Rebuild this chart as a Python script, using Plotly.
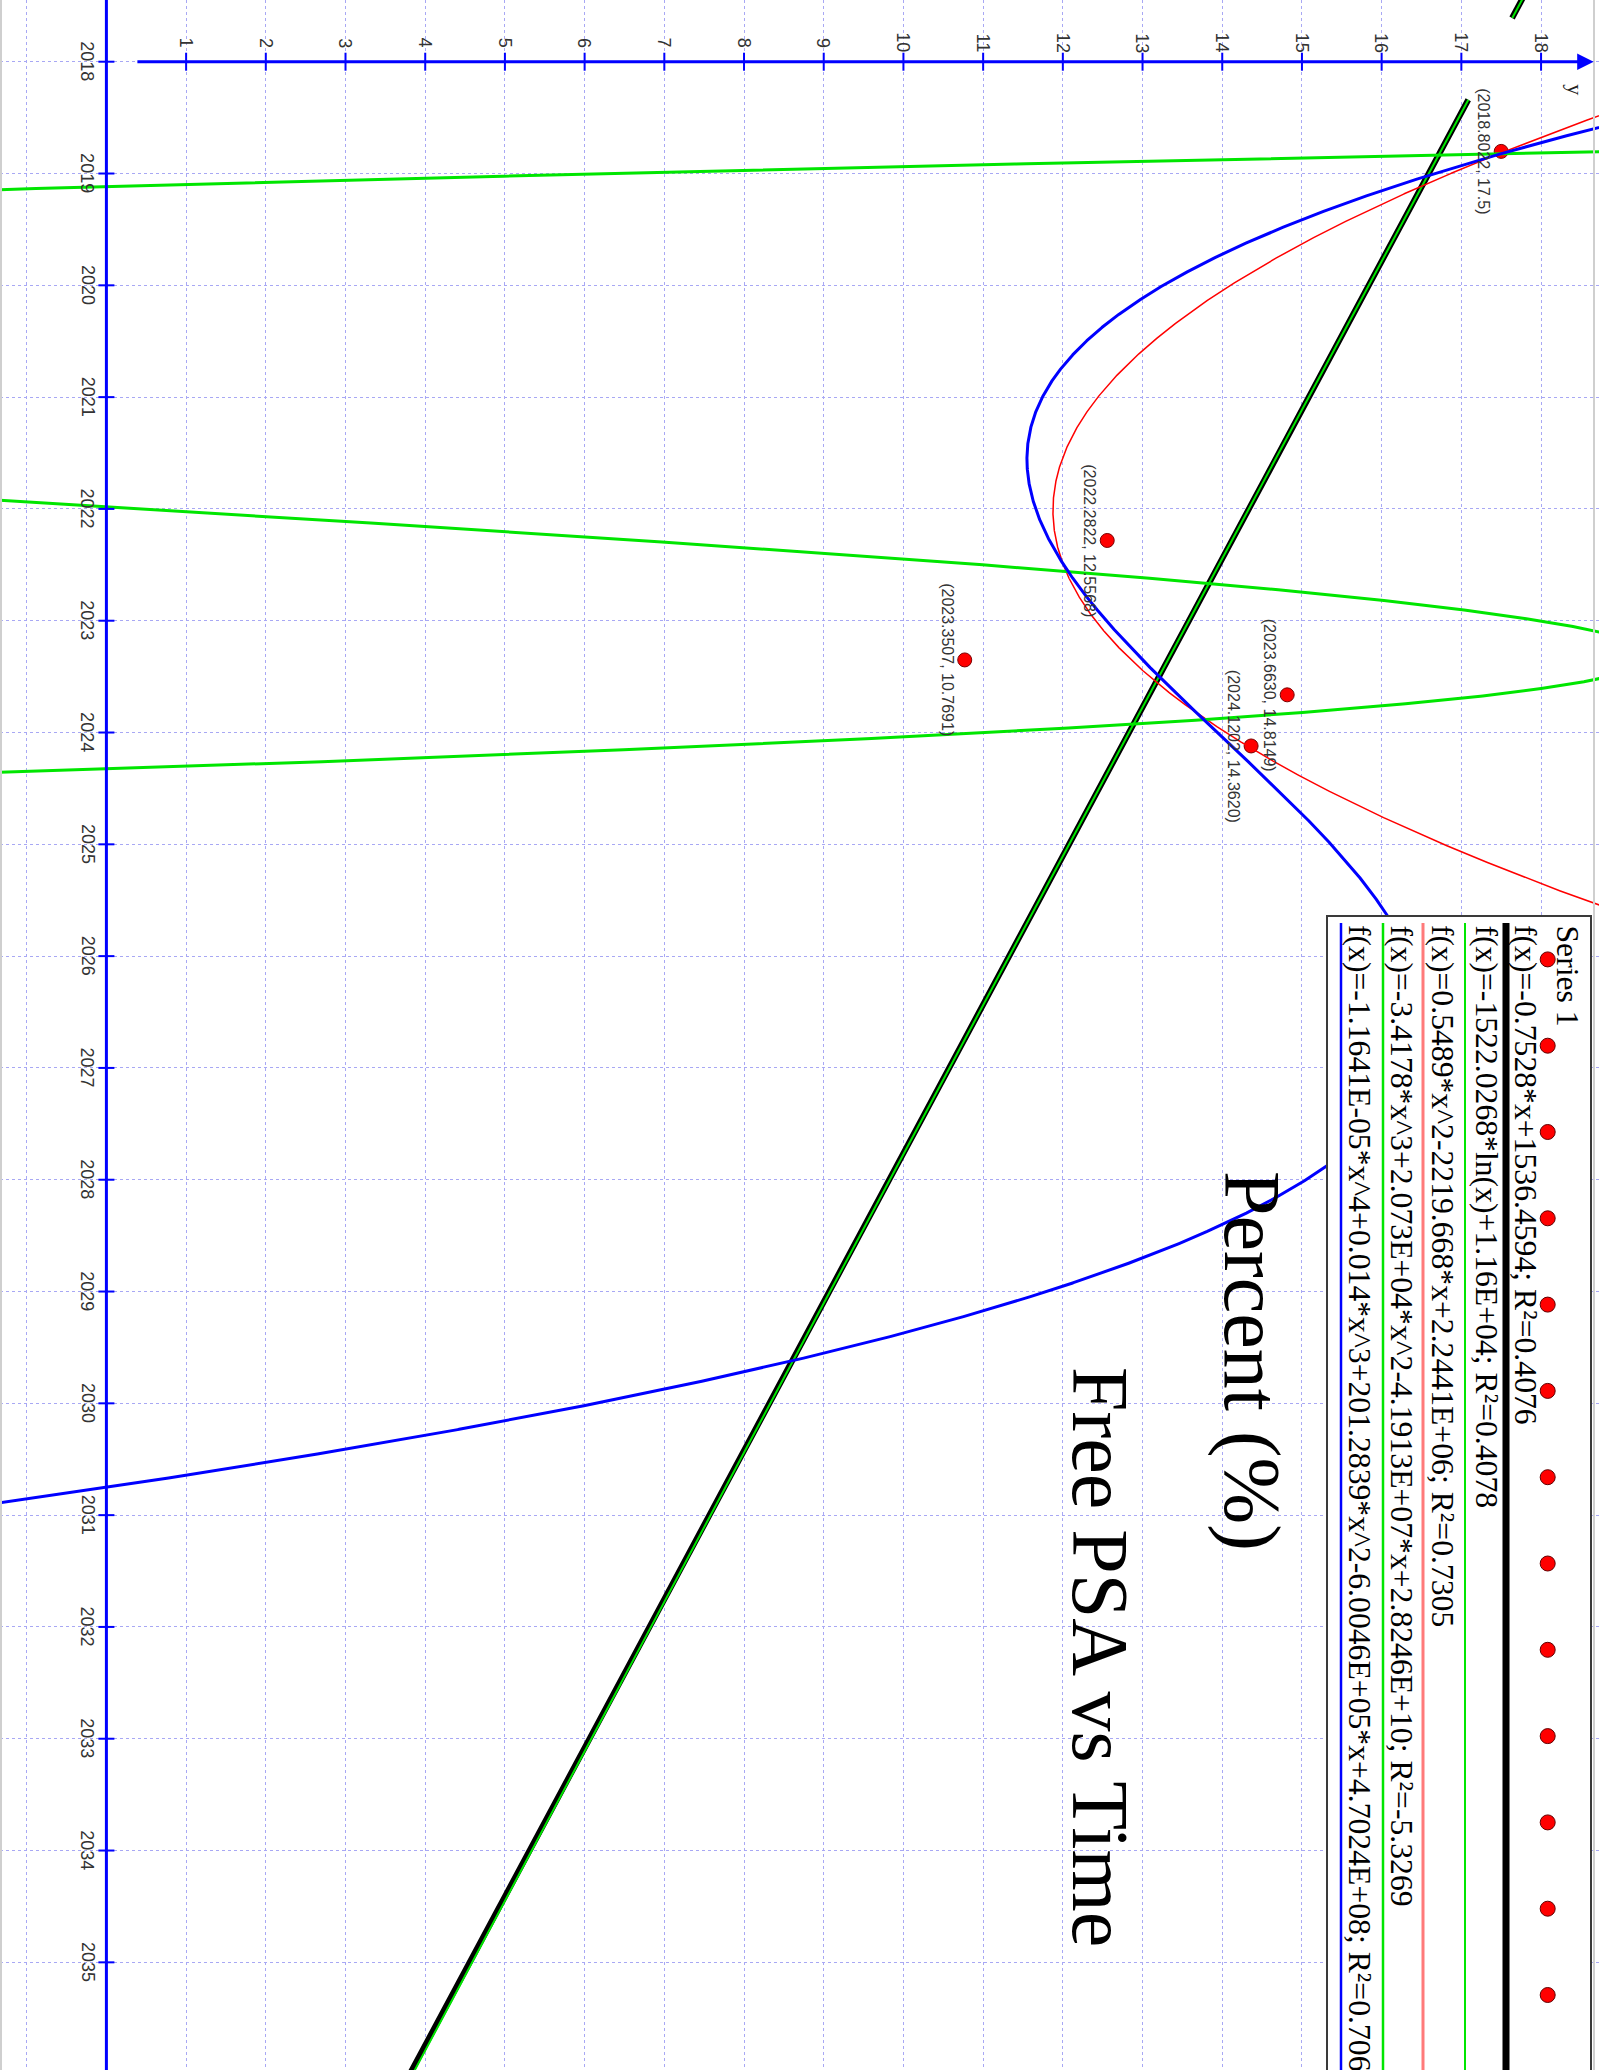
import numpy as np
import plotly.graph_objects as go

# ---------------- data ----------------
time_years = [2018.8022, 2022.2822, 2023.3507, 2023.6630, 2024.1202]
free_psa_pct = [17.5, 12.5568, 10.7691, 14.8149, 14.3620]
point_labels = ["(2018.8022, 17.5)", "(2022.2822, 12.5568)", "(2023.3507, 10.7691)",
                "(2023.6630, 14.8149)", "(2024.1202, 14.3620)"]

percent_ticks = list(range(1, 19))
year_ticks = list(range(2018, 2037))

# cubic trend line as drawn: leading coefficient from its legend, zero crossings
cubic_lead = -3.4178
cubic_roots = [2019.117, 2021.980, 2024.328]

# quartic trend line as drawn
quartic_t = [2018.594, 2018.822, 2019.025, 2019.431, 2019.863, 2020.167, 2020.624, 2020.980,
             2021.487, 2021.995, 2022.503, 2023.493, 2023.924, 2024.482, 2025.599,
             2027.898, 2028.331, 2029.016, 2029.613, 2030.210, 2030.746, 2030.880]
quartic_p = [18.66, 17.49, 16.51, 15.00, 13.70, 12.92, 12.14, 11.70,
             11.49, 11.57, 11.99, 13.18, 13.91, 14.74, 16.04,
             15.25, 14.13, 11.66, 8.58, 4.94, 0.0, -1.335]

legend_texts = [
    "Series 1",
    "f(x)=-0.7528*x+1536.4594; R²=0.4076",
    "f(x)=-1522.0268*ln(x)+1.16E+04; R²=0.4078",
    "f(x)=0.5489*x^2-2219.668*x+2.2441E+06; R²=0.7305",
    "f(x)=-3.4178*x^3+2.073E+04*x^2-4.1913E+07*x+2.8246E+10; R²=-5.3269",
    "f(x)=-1.1641E-05*x^4+0.014*x^3+201.2839*x^2-6.0046E+05*x+4.7024E+08; R²=0.7064",
]

# ---------------- geometry ----------------
W, H = 1599, 2070
X_RANGE = [-1.335, 18.727]          # percent (horizontal)
Y_RANGE = [2035.963, 2017.448]      # time (vertical, increasing downward)

def px(xp):
    return xp / W

def py(yp):
    return 1 - yp / H

t_arr = np.array(time_years)
p_arr = np.array(free_psa_pct)

tt = np.linspace(2017.40, 2036.2, 8000)
band = (tt > 2017.61) & (tt < 2018.34)

def masked(v):
    v = np.asarray(v, dtype=float).copy()
    v[band] = np.nan
    return v

lin_c = np.polyfit(t_arr - 2022, p_arr, 1)
log_c = np.polyfit(np.log(t_arr), p_arr, 1)
quad_c = np.polyfit(t_arr - 2022, p_arr, 2)
qrt_c = np.polyfit(np.array(quartic_t) - 2024, np.array(quartic_p), 4)

lin_v = masked(np.polyval(lin_c, tt - 2022))
log_v = masked(np.polyval(log_c, np.log(tt)))
quad_v = masked(np.polyval(quad_c, tt - 2022))
cub_v = masked(cubic_lead * (tt - cubic_roots[0]) * (tt - cubic_roots[1]) * (tt - cubic_roots[2]))
qrt_v = masked(np.polyval(qrt_c, tt - 2024))

GREEN = "#00e600"
BLUE = "#0000ff"

fig = go.Figure()

fig.add_trace(go.Scatter(x=p_arr, y=t_arr, mode="markers",
                         marker=dict(size=14, color="#ff0000", line=dict(color="#7a0000", width=1)),
                         showlegend=False, hoverinfo="skip"))
fig.add_trace(go.Scatter(x=lin_v, y=tt, mode="lines", line=dict(color="#000000", width=6),
                         showlegend=False, hoverinfo="skip"))
fig.add_trace(go.Scatter(x=log_v, y=tt, mode="lines", line=dict(color=GREEN, width=2),
                         showlegend=False, hoverinfo="skip"))
fig.add_trace(go.Scatter(x=quad_v, y=tt, mode="lines", line=dict(color="#ff0000", width=1.5),
                         showlegend=False, hoverinfo="skip"))
fig.add_trace(go.Scatter(x=cub_v, y=tt, mode="lines", line=dict(color=GREEN, width=3),
                         showlegend=False, hoverinfo="skip"))
fig.add_trace(go.Scatter(x=qrt_v, y=tt, mode="lines", line=dict(color=BLUE, width=3),
                         showlegend=False, hoverinfo="skip"))

shapes = []
annotations = []

# time axis (vertical, at percent = 0)
shapes.append(dict(type="line", xref="x", yref="paper", x0=0, x1=0, y0=0, y1=1,
                   line=dict(color=BLUE, width=3), layer="above"))
for yr in year_ticks:
    shapes.append(dict(type="line", xref="x", yref="y", xsizemode="pixel", xanchor=0,
                       x0=-8, x1=8, y0=yr, y1=yr, line=dict(color=BLUE, width=2), layer="above"))
    annotations.append(dict(x=0, y=yr, xref="x", yref="y", text=str(yr), showarrow=False,
                            textangle=90, xshift=-19, xanchor="center", yanchor="middle",
                            font=dict(family="Liberation Sans", size=18, color="#333333")))

# percent axis (horizontal, at year 2018) with arrow
annotations.append(dict(x=18.66, y=2018, ax=0.37, ay=2018, xref="x", yref="y", axref="x", ayref="y",
                        text="", showarrow=True, arrowhead=2, arrowsize=1.1, arrowwidth=3,
                        arrowcolor=BLUE, standoff=0))
for pv in percent_ticks:
    shapes.append(dict(type="line", xref="x", yref="y", ysizemode="pixel", yanchor=2018,
                       y0=-9, y1=9, x0=pv, x1=pv, line=dict(color=BLUE, width=2), layer="above"))
    annotations.append(dict(x=pv, y=2018, xref="x", yref="y", text=str(pv), showarrow=False,
                            textangle=90, yshift=19, xanchor="center", yanchor="middle",
                            font=dict(family="Liberation Sans", size=18, color="#333333")))
annotations.append(dict(x=18.43, y=2018.25, xref="x", yref="y", text="y", showarrow=False,
                        textangle=90, xanchor="center", yanchor="middle",
                        font=dict(family="Liberation Serif", size=22, color="#222222")))

# point labels
for pv, tv, lab in zip(free_psa_pct, time_years, point_labels):
    annotations.append(dict(x=pv, y=tv, xref="x", yref="y", text=lab, showarrow=False,
                            textangle=90, xshift=-18, xanchor="center", yanchor="middle",
                            font=dict(family="Liberation Sans", size=16, color="#333333")))

# titles
annotations.append(dict(x=px(1252), y=py(1361), xref="paper", yref="paper", text="Percent (%)",
                        showarrow=False, textangle=90, xanchor="center", yanchor="middle",
                        font=dict(family="Liberation Serif", size=80, color="#000000")))
annotations.append(dict(x=px(1100), y=py(1657), xref="paper", yref="paper", text="Free PSA vs Time",
                        showarrow=False, textangle=90, xanchor="center", yanchor="middle",
                        font=dict(family="Liberation Serif", size=80, color="#000000")))

# legend box
shapes.append(dict(type="rect", xref="paper", yref="paper", x0=px(1327), x1=px(1591),
                   y0=py(2080), y1=py(916), fillcolor="#ffffff",
                   line=dict(color="#3a3a3a", width=2), layer="above"))
legend_text_x = [1567, 1526, 1486, 1443, 1401, 1360]
legend_line_x = [None, 1506, 1465, 1423, 1383, 1341]
legend_line_style = [None, ("#000000", 7), (GREEN, 2), ("#ff7a7a", 3), (GREEN, 2.5), (BLUE, 2.5)]
for lx, st in zip(legend_line_x, legend_line_style):
    if lx is None:
        continue
    shapes.append(dict(type="line", xref="paper", yref="paper", x0=px(lx), x1=px(lx),
                       y0=py(923), y1=py(2080), line=dict(color=st[0], width=st[1]), layer="above"))
dot_y = 959.4
while dot_y < H + 10:
    shapes.append(dict(type="circle", xref="paper", yref="paper",
                       x0=px(1547.7 - 7.5), x1=px(1547.7 + 7.5),
                       y0=py(dot_y + 7.5), y1=py(dot_y - 7.5),
                       fillcolor="#ff0000", line=dict(color="#600000", width=1), layer="above"))
    dot_y += 86.3
for tx, txt in zip(legend_text_x, legend_texts):
    annotations.append(dict(x=px(tx), y=py(923), xref="paper", yref="paper", text=txt,
                            showarrow=False, textangle=90, xanchor="center", yanchor="top",
                            font=dict(family="Liberation Serif", size=31.7, color="#000000")))

# window edge lines
shapes.append(dict(type="line", xref="paper", yref="paper", x0=px(1), x1=px(1), y0=0, y1=1,
                   line=dict(color="#cfcfcf", width=2), layer="above"))
shapes.append(dict(type="line", xref="paper", yref="paper", x0=px(1594), x1=px(1594), y0=0, y1=1,
                   line=dict(color="#cfcfcf", width=2), layer="above"))

fig.update_layout(
    width=W, height=H, margin=dict(l=0, r=0, t=0, b=0),
    paper_bgcolor="#ffffff", plot_bgcolor="#ffffff",
    showlegend=False, shapes=shapes, annotations=annotations,
    xaxis=dict(range=X_RANGE, tick0=0, dtick=1, showgrid=True, gridcolor="#a8a8f4",
               griddash="dot", gridwidth=1, zeroline=False, showticklabels=False,
               ticks="", showline=False, fixedrange=True),
    yaxis=dict(range=Y_RANGE, tick0=2018, dtick=1, showgrid=True, gridcolor="#a8a8f4",
               griddash="dot", gridwidth=1, zeroline=False, showticklabels=False,
               ticks="", showline=False, fixedrange=True),
)

fig.write_html("out.html", config={"displayModeBar": False},
               post_script="document.body.style.margin='0';document.body.style.overflow='hidden';")
